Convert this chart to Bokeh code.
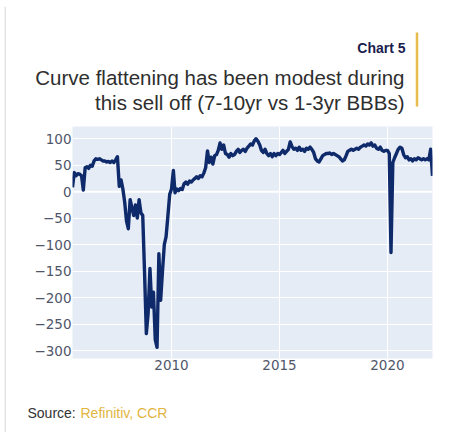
import pandas as pd
from bokeh.plotting import figure
from bokeh.layouts import column, row
from bokeh.models import Range1d, FixedTicker, DatetimeTickFormatter, Span
from bokeh.core.properties import value
from bokeh.embed import file_html
from bokeh.resources import INLINE

# ---- data (monthly) ----
start_month = "2005-06-01"
v2005 = [8, 36, 30, 34, 33, 30, 3]
v2006 = [45, 47, 44, 50, 48, 58, 62, 61, 62, 60, 58, 58]
v2007 = [56, 57, 55, 58, 55, 60, 66, 10, 22, 5, -20, -55]
v2008 = [-70, -15, -30, -45, -25, -50, -15, -40, -45, -150, -268, -230]
v2009 = [-145, -218, -190, -280, -294, -117, -205, -150, -100, -85, -45, -5]
v2010 = [5, 40, -2, 5, 2, 6, 4, 15, 18, 14, 20, 18]
v2011 = [22, 25, 28, 25, 30, 28, 35, 45, 77, 55, 65, 52]
v2012 = [68, 70, 78, 92, 80, 88, 72, 70, 65, 72, 68, 70]
v2013 = [76, 80, 74, 78, 80, 76, 82, 86, 90, 88, 96, 100]
v2014 = [95, 88, 78, 74, 80, 72, 68, 72, 66, 72, 68, 72]
v2015 = [70, 74, 78, 72, 76, 80, 94, 85, 80, 82, 78, 84]
v2016 = [78, 80, 76, 82, 80, 84, 80, 74, 62, 58, 56, 62]
v2017 = [68, 70, 72, 72, 73, 70, 72, 70, 68, 66, 62, 58]
v2018 = [60, 68, 76, 78, 80, 78, 80, 82, 80, 84, 86, 88]
v2019 = [86, 90, 88, 92, 86, 88, 82, 80, 84, 78, 76, 78]
v2020 = [78, 72, -115, 55, 64, 72, 80, 84, 82, 70, 64, 66]
v2021 = [60, 62, 58, 62, 60, 64, 62, 60, 62, 60, 62, 60]
v2022 = [80, 30]

y_ticks = [-300, -250, -200, -150, -100, -50, 0, 50, 100]
x_tick_years = ["2010-01-01", "2015-01-01", "2020-01-01"]

title_small = "Chart 5"
title_line1 = "Curve flattening has been modest during"
title_line2 = "this sell off (7-10yr vs 1-3yr BBBs)"
source_label = "Source:"
source_text = "Refinitiv, CCR"

values = (v2005 + v2006 + v2007 + v2008 + v2009 + v2010 + v2011 + v2012 + v2013
          + v2014 + v2015 + v2016 + v2017 + v2018 + v2019 + v2020 + v2021 + v2022)
dates = pd.date_range(start_month, periods=len(values), freq="MS")

BORDER = "#e4e4e4"
OX, OY = 6, 6          # offset of the content block on the page
W = 452 - OX           # content width


def blank(width, height):
    f = figure(width=width, height=height, x_range=Range1d(0, width), y_range=Range1d(height, 0),
               toolbar_location=None, output_backend="svg", min_border=0,
               x_axis_location=None, y_axis_location=None)
    f.grid.visible = False
    f.outline_line_color = None
    f.background_fill_color = "white"
    f.border_fill_color = "white"
    return f


# ---- frame strips (card border) ----
top = blank(452, OY)
top.segment(x0=[4], y0=[5], x1=[452], y1=[5], line_color=BORDER, line_width=2)
left = blank(OX, 432 - OY)
left.segment(x0=[5], y0=[0], x1=[5], y1=[432 - OY], line_color=BORDER, line_width=2)

# ---- header ----
HH = 118 - OY
hdr = blank(W, HH)
hdr.text(x=[405 - OX], y=[47 - OY], text=[title_small], text_align="right",
         text_baseline="alphabetic", text_font=value("Liberation Sans"),
         text_font_style="bold", text_font_size="14px", text_color="#1b1d4d")
hdr.text(x=[404 - OX, 404 - OX], y=[77 - OY, 102 - OY], text=[title_line1, title_line2],
         text_align="right", text_baseline="alphabetic", text_font=value("Liberation Sans"),
         text_font_size="20.5px", text_color="#2e2e2e")
hdr.segment(x0=[416.5 - OX], y0=[32 - OY], x1=[416.5 - OX], y1=[106 - OY],
            line_color="#E8BC4C", line_width=2.5)

# ---- main chart ----
p = figure(width=W, height=270, x_axis_type="datetime",
           x_range=Range1d(dates[0], dates[-1]), y_range=Range1d(-315, 123),
           toolbar_location=None, output_backend="svg",
           min_border_left=72 - OX, min_border_right=452 - 432, min_border_top=8,
           min_border_bottom=30)
p.background_fill_color = "#E5ECF6"
p.border_fill_color = "white"
p.outline_line_color = None

p.line(dates, values, line_color="#0f2a6a", line_width=3.4, line_join="round")

p.yaxis.ticker = FixedTicker(ticks=y_ticks)
p.yaxis.major_label_overrides = {t: (str(t).replace("-", "\u2212")) for t in y_ticks}
p.xaxis.ticker = FixedTicker(ticks=[pd.Timestamp(d).value / 1e6 for d in x_tick_years])
p.xaxis.formatter = DatetimeTickFormatter(years="%Y", months="%Y", days="%Y")
for ax in (p.xaxis, p.yaxis):
    ax.axis_line_color = None
    ax.major_tick_line_color = None
    ax.minor_tick_line_color = None
    ax.major_tick_out = 0
    ax.major_tick_in = 0
    ax.major_label_text_font = "DejaVu Sans"
    ax.major_label_text_font_size = "13.5px"
    ax.major_label_text_color = "#50566a"
p.yaxis.major_label_standoff = 1
p.xaxis.major_label_standoff = 1
p.grid.grid_line_color = "white"
p.grid.grid_line_width = 1
p.add_layout(Span(location=0, dimension="width", line_color="white", line_width=2,
                  level="underlay"))

# ---- footer ----
FH = 432 - 388
ftr = blank(W, FH)
ftr.text(x=[27 - OX], y=[412 - 388], text=[source_label], text_baseline="alphabetic",
         text_font=value("Liberation Sans"), text_font_size="14px", text_color="#333333")
ftr.text(x=[80 - OX], y=[412 - 388], text=[source_text], text_baseline="alphabetic",
         text_font=value("Liberation Sans"), text_font_size="14px", text_color="#E2B540")

content = column(row(hdr, spacing=0), row(p, spacing=0), row(ftr, spacing=0), spacing=0)
layout = column(top, row(left, content, spacing=0), spacing=0)
open("out.html", "w").write(file_html(layout, INLINE))
